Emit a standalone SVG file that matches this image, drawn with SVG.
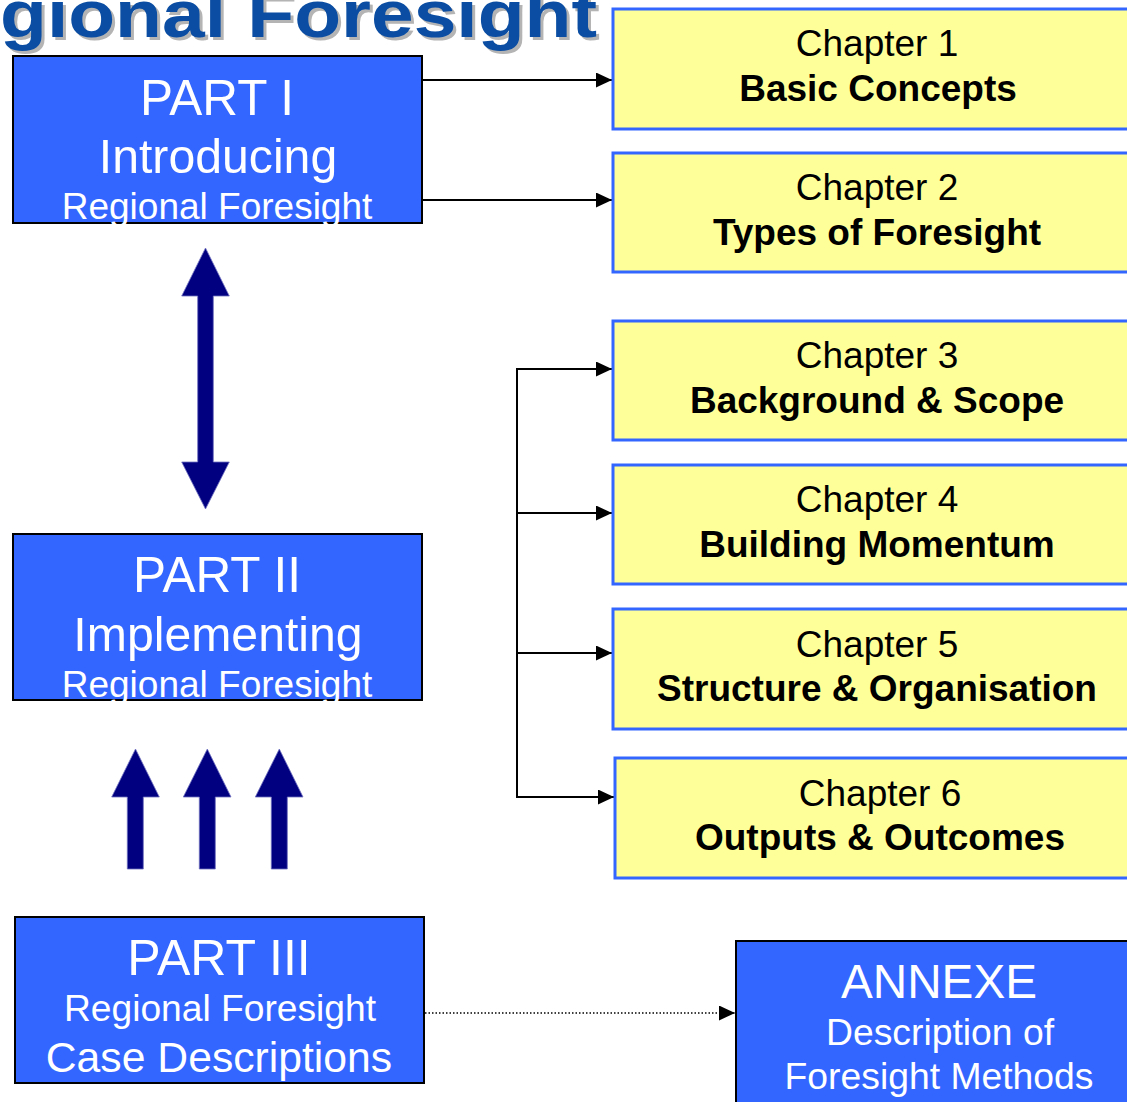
<svg xmlns="http://www.w3.org/2000/svg" width="1127" height="1102" viewBox="0 0 1127 1102">
<defs>
<style>
.part{fill:#3366FF;stroke:#000;stroke-width:2}
.chap{fill:#FFFF99;stroke:#3366FF;stroke-width:3}
.wt{fill:#fff;font-family:"Liberation Sans",Arial,sans-serif;text-anchor:middle}
.bt{fill:#000;font-family:"Liberation Sans",Arial,sans-serif;text-anchor:middle;font-size:37px}
.b{font-weight:bold}
.conn{stroke:#000;stroke-width:2;fill:none}
.blk{fill:#000080;stroke:#7070c0;stroke-width:0.8}
</style>
<marker id="ah" viewBox="0 0 16 15" markerWidth="16" markerHeight="15" refX="16" refY="7.5" orient="auto" markerUnits="userSpaceOnUse">
<path d="M0,0 L16,7.5 L0,15 Z" fill="#000"/>
</marker>
</defs>
<rect width="1127" height="1102" fill="#fff"/>
<g id="title" font-family="Liberation Sans,Arial,sans-serif" font-weight="bold" font-size="66">
<text x="3" y="40" fill="#b4b4b4" textLength="597" lengthAdjust="spacingAndGlyphs">gional Foresight</text>
<text x="0" y="37" fill="#0A4DA2" textLength="597" lengthAdjust="spacingAndGlyphs">gional Foresight</text>
</g>
<g id="connectors">
<line class="conn" x1="422" y1="80" x2="612" y2="80" marker-end="url(#ah)"/>
<line class="conn" x1="422" y1="200" x2="612" y2="200" marker-end="url(#ah)"/>
<line class="conn" x1="517" y1="369" x2="517" y2="797"/>
<line class="conn" x1="516" y1="369" x2="612" y2="369" marker-end="url(#ah)"/>
<line class="conn" x1="516" y1="513" x2="612" y2="513" marker-end="url(#ah)"/>
<line class="conn" x1="516" y1="653" x2="612" y2="653" marker-end="url(#ah)"/>
<line class="conn" x1="516" y1="797" x2="614" y2="797" marker-end="url(#ah)"/>
<line x1="425" y1="1013" x2="735" y2="1013" stroke="#000" stroke-width="1.5" stroke-dasharray="1.5 2" marker-end="url(#ah)"/>
<path class="blk" d="M205.5,248 L229.3,296 L213.3,296 L213.3,462 L229.3,462 L205.5,509 L181.7,462 L197.7,462 L197.7,296 L181.7,296 Z"/>
<path class="blk" d="M135.5,749 L159.3,797 L143.3,797 L143.3,869 L127.3,869 L127.3,797 L111.7,797 Z"/>
<path class="blk" d="M207.3,749 L231,797 L215.3,797 L215.3,869 L199.3,869 L199.3,797 L183.3,797 Z"/>
<path class="blk" d="M279.3,749 L303,797 L287.3,797 L287.3,869 L271.3,869 L271.3,797 L255.3,797 Z"/>
</g>
<g id="part1">
<rect class="part" x="13" y="56" width="409" height="167"/>
<text class="wt" x="217" y="115" font-size="49.5">PART I</text>
<text class="wt" x="218" y="173" font-size="48.2">Introducing</text>
<text class="wt" x="217" y="219" font-size="37">Regional Foresight</text>
</g>
<g id="part2">
<rect class="part" x="13" y="534" width="409" height="166"/>
<text class="wt" x="217" y="592" font-size="49.5">PART II</text>
<text class="wt" x="218" y="651" font-size="48.2">Implementing</text>
<text class="wt" x="217" y="697" font-size="37">Regional Foresight</text>
</g>
<g id="part3">
<rect class="part" x="15" y="917" width="409" height="166"/>
<text class="wt" x="219" y="975" font-size="50">PART III</text>
<text class="wt" x="220" y="1021" font-size="37.2">Regional Foresight</text>
<text class="wt" x="219" y="1072" font-size="42.7">Case Descriptions</text>
</g>
<g id="annexe">
<rect class="part" x="736" y="941" width="410" height="180"/>
<text class="wt" x="939" y="998" font-size="47.7">ANNEXE</text>
<text class="wt" x="940" y="1045" font-size="37.3">Description of</text>
<text class="wt" x="939" y="1089" font-size="37.3">Foresight Methods</text>
</g>
<g id="ch1">
<rect class="chap" x="613" y="9" width="530" height="120"/>
<text class="bt" x="877" y="56">Chapter 1</text>
<text class="bt b" x="878" y="101">Basic Concepts</text>
</g>
<g id="ch2">
<rect class="chap" x="613" y="153" width="530" height="119"/>
<text class="bt" x="877" y="200">Chapter 2</text>
<text class="bt b" x="877" y="245">Types of Foresight</text>
</g>
<g id="ch3">
<rect class="chap" x="613" y="321" width="530" height="119"/>
<text class="bt" x="877" y="368">Chapter 3</text>
<text class="bt b" x="877" y="413">Background &amp; Scope</text>
</g>
<g id="ch4">
<rect class="chap" x="613" y="465" width="530" height="119"/>
<text class="bt" x="877" y="512">Chapter 4</text>
<text class="bt b" x="877" y="557">Building Momentum</text>
</g>
<g id="ch5">
<rect class="chap" x="613" y="609" width="530" height="120"/>
<text class="bt" x="877" y="657">Chapter 5</text>
<text class="bt b" x="877" y="701">Structure &amp; Organisation</text>
</g>
<g id="ch6">
<rect class="chap" x="615" y="758" width="530" height="120"/>
<text class="bt" x="880" y="806">Chapter 6</text>
<text class="bt b" x="880" y="850">Outputs &amp; Outcomes</text>
</g>
</svg>
